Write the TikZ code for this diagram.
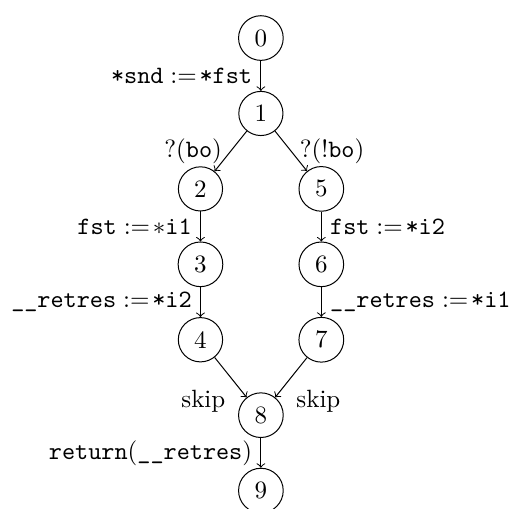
\documentclass[tikz,border=0pt]{standalone}
\newcommand{\assignop}{\mathrel{:=}\!}
\begin{document}
\begin{tikzpicture}[state/.style={circle, draw}, trans/.style={->}]

    % constants
    \def\dx{0.85}
    \def\dy{1.061}

    % picture frame
    \useasboundingbox (-3.67,0.535) rectangle (3.49,-6.621);

    % states
    \node[state] (0) at (0,0) {0};
    \node[state] (1) at (0,-\dy) {1};
    \node[state] (2) at (-\dx,-2*\dy) {2};
    \node[state] (3) at (-\dx,-3*\dy) {3};
    \node[state] (4) at (-\dx,-4*\dy) {4};
    \node[state] (5) at (\dx,-2*\dy) {5};
    \node[state] (6) at (\dx,-3*\dy) {6};
    \node[state] (7) at (\dx,-4*\dy) {7};
    \node[state] (8) at (0,-5*\dy) {8};
    \node[state] (9) at (0,-6*\dy) {9};

    % transitions
    \draw[trans] (0) -- node[left] (t01) {$\texttt{*snd} \assignop \texttt{*fst}$} (1);
    \draw[trans] (1) -- node[left] (t12) {$?(\texttt{bo})$} (2);
    \draw[trans] (1) -- node[right] (t15) {$?(!\texttt{bo})$} (5);

    % left branch
    \draw[trans] (2) -- node[left] (t23) {$\texttt{fst} \assignop *\texttt{i1}$} (3);
    \draw[trans] (3) -- node[left] (t34) {$\texttt{\_\_retres} \assignop \texttt{*i2}$} (4);

    % right branch
    \draw[trans] (5) -- node[right] (t56) {$\texttt{fst} \assignop \texttt{*i2}$} (6);
    \draw[trans] (6) -- node[right] (t67) {$\texttt{\_\_retres} \assignop \texttt{*i1}$} (7);

    % join
    \draw[trans] (4) -- node[pos=1, left, xshift=-5pt, yshift=-1.5pt] (t48) {skip} (8);
    \draw[trans] (7) -- node[pos=1, right, xshift=5pt, yshift=-1.5pt] (t78) {skip} (8);
    \draw[trans] (8) -- node[left] (t89) {$\texttt{return}(\texttt{\_\_retres})$} (9);

\end{tikzpicture}
\end{document}
